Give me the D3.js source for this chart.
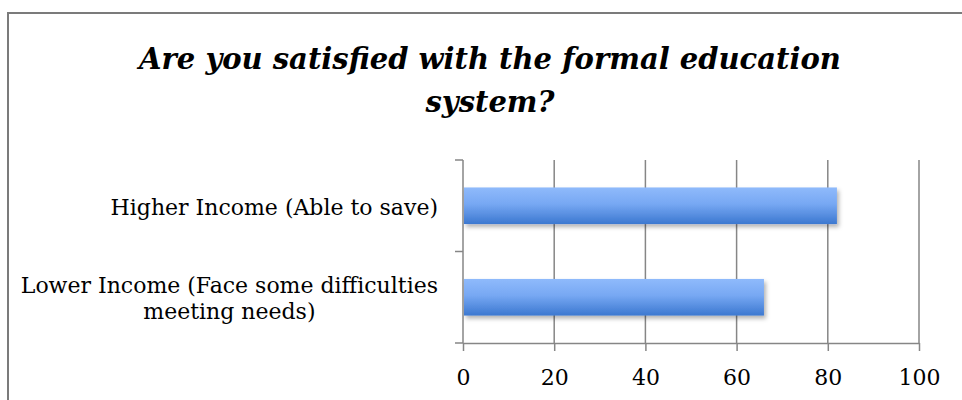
<!DOCTYPE html>
<html>
<head>
<meta charset="utf-8">
<script src="https://cdn.jsdelivr.net/npm/d3@7"></script>
<style>
  html, body { margin: 0; padding: 0; background: #fff; }
  svg { display: block; }
</style>
</head>
<body>
<svg id="chart" width="962" height="400"></svg>
<script>
// Survey responses, top to bottom
const categories = [
  ["Higher Income (Able to save)"],
  ["Lower Income (Face some difficulties", "meeting needs)"]
];
const categoryKeys = ["Higher Income", "Lower Income"];
const values = [82, 66];
const xTicks = [0, 20, 40, 60, 80, 100];
const titleLines = ["Are you satisfied with the formal education", "system?"];

const W = 962, H = 400;
const plot = { left: 463, right: 919, top: 160, bottom: 343 };
const serif = "'DejaVu Serif', 'Liberation Serif', serif";

const svg = d3.select("#chart");

// drop shadow for the bars
const defs = svg.append("defs");
const f = defs.append("filter").attr("id", "barShadow")
  .attr("x", "-5%").attr("y", "-30%").attr("width", "115%").attr("height", "180%");
f.append("feDropShadow").attr("dx", 2).attr("dy", 3).attr("stdDeviation", 2)
  .attr("flood-color", "#000").attr("flood-opacity", 0.3);

const grad = defs.append("linearGradient").attr("id", "barFill")
  .attr("x1", 0).attr("y1", 0).attr("x2", 0).attr("y2", 1);
grad.append("stop").attr("offset", "0%").attr("stop-color", "#8fbafb");
grad.append("stop").attr("offset", "45%").attr("stop-color", "#77a8f3");
grad.append("stop").attr("offset", "100%").attr("stop-color", "#3c78d0");

// frame (top and left edges visible)
svg.append("path")
  .attr("d", `M8,${H} L8,13 L${W},13`)
  .attr("fill", "none").attr("stroke", "#7b7b7b").attr("stroke-width", 2);

// title
const title = svg.append("text")
  .attr("x", 490).attr("y", 69)
  .attr("text-anchor", "middle")
  .attr("font-family", serif).attr("font-size", 29)
  .attr("font-weight", "bold").attr("font-style", "italic").attr("fill", "#000");
titleLines.forEach((t, i) => {
  title.append("tspan").attr("x", 490).attr("dy", i === 0 ? 0 : 43).text(t);
});

const x = d3.scaleLinear().domain([0, 100]).range([plot.left, plot.right]);
const y = d3.scaleBand().domain(categoryKeys).range([plot.top, plot.bottom]).padding(0);

// vertical gridlines
svg.append("g").selectAll("line")
  .data(xTicks.filter(d => d > 0))
  .join("line")
  .attr("x1", d => x(d)).attr("x2", d => x(d))
  .attr("y1", plot.top).attr("y2", plot.bottom)
  .attr("stroke", "#868686").attr("stroke-width", 1.5);

// x axis
const xAxis = svg.append("g")
  .attr("transform", `translate(0,${plot.bottom})`)
  .call(d3.axisBottom(x).tickValues(xTicks).tickSize(8).tickSizeOuter(0).tickPadding(18));
xAxis.select(".domain").attr("stroke", "#868686").attr("stroke-width", 1.5);
xAxis.selectAll(".tick line").attr("stroke", "#868686").attr("stroke-width", 1.5);
xAxis.selectAll(".tick text")
  .attr("font-family", serif).attr("font-size", 22).attr("fill", "#000");

// y axis line with ticks at band boundaries
const yBounds = [plot.top, ...categoryKeys.map(k => y(k) + y.bandwidth())];
svg.append("line")
  .attr("x1", plot.left).attr("x2", plot.left)
  .attr("y1", plot.top).attr("y2", plot.bottom)
  .attr("stroke", "#868686").attr("stroke-width", 1.5);
svg.append("g").selectAll("line")
  .data(yBounds)
  .join("line")
  .attr("x1", plot.left - 8).attr("x2", plot.left)
  .attr("y1", d => d).attr("y2", d => d)
  .attr("stroke", "#868686").attr("stroke-width", 1.5);

// bars
const barH = y.bandwidth() * 0.4;
svg.append("g").selectAll("rect")
  .data(values)
  .join("rect")
  .attr("x", x(0) + 1)
  .attr("y", (d, i) => y(categoryKeys[i]) + (y.bandwidth() - barH) / 2)
  .attr("width", d => x(d) - x(0) - 1)
  .attr("height", barH)
  .attr("fill", "url(#barFill)")
  .attr("filter", "url(#barShadow)");

// category labels: block right-aligned to the axis, lines centred inside it
const labelRight = plot.left - 25;
const lineGap = 26;
categories.forEach((lines, i) => {
  const cy = y(categoryKeys[i]) + y.bandwidth() / 2;
  const g = svg.append("text")
    .attr("font-family", serif).attr("font-size", 22).attr("fill", "#000")
    .attr("text-anchor", "middle");
  const spans = lines.map((t, j) => g.append("tspan")
    .attr("dy", j === 0 ? 0 : lineGap).text(t));
  const widest = d3.max(spans, s => s.node().getComputedTextLength());
  const cx = labelRight - widest / 2;
  spans.forEach(s => s.attr("x", cx));
  const firstBase = cy + 9 - (lines.length - 1) * lineGap / 2;
  g.attr("y", firstBase);
  spans[0].attr("y", firstBase);
});
</script>
</body>
</html>
